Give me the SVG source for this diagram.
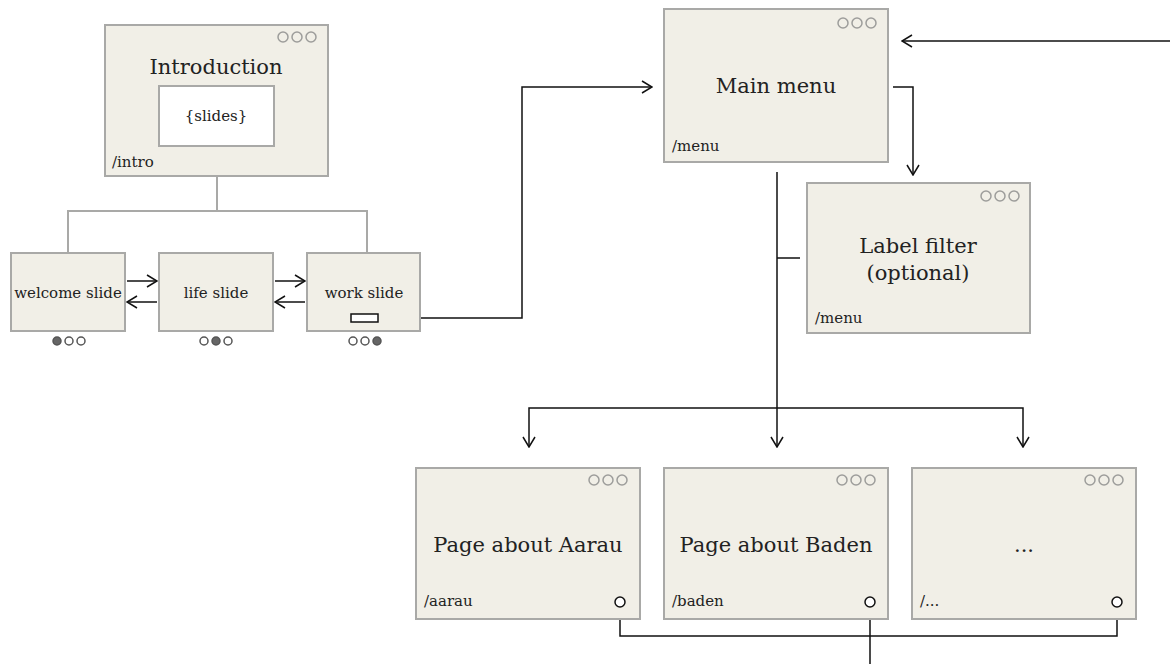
<svg xmlns="http://www.w3.org/2000/svg" width="1170" height="664" viewBox="0 0 1170 664">
<defs>
<style>
.box{fill:#f1efe7;stroke:#a9a9a7;stroke-width:2}
.inner{fill:#ffffff;stroke:#a9a9a7;stroke-width:2}
.dot{fill:none;stroke:#9d9d9b;stroke-width:1.5}
.sdot{fill:#ffffff;stroke:#555;stroke-width:1.5}
.sdotf{fill:#666;stroke:#555;stroke-width:1.5}
.title{font-family:"DejaVu Serif","Liberation Serif",serif;font-size:21px;fill:#222;text-anchor:middle}
.lbl{font-family:"DejaVu Serif","Liberation Serif",serif;font-size:15px;fill:#222}
.lblc{font-family:"DejaVu Serif","Liberation Serif",serif;font-size:15px;fill:#222;text-anchor:middle}
.tree{fill:none;stroke:#a9a9a7;stroke-width:2}
.con{fill:none;stroke:#111;stroke-width:1.5}
.arr{fill:none;stroke:#111;stroke-width:1.5;marker-end:url(#ah)}
.port{fill:#fff;stroke:#111;stroke-width:1.5}
</style>
<marker id="ah" viewBox="0 0 12 14" refX="11" refY="7" markerWidth="12" markerHeight="14" markerUnits="userSpaceOnUse" orient="auto">
<path d="M1,1 L11,7 L1,13" fill="none" stroke="#111" stroke-width="1.5"/>
</marker>
</defs>

<g id="connectors">
<path class="tree" d="M217,133 V211 M68,253 V211 H367 V253"/>
<path class="arr" d="M127,281 H157"/>
<path class="arr" d="M157,302 H127"/>
<path class="arr" d="M275,281 H305"/>
<path class="arr" d="M305,302 H275"/>
<path class="arr" d="M378,318 H522 V87 H652"/>
<path class="arr" d="M1170,41 H902"/>
<path class="arr" d="M893,87 H913 V175"/>
<path class="con" d="M777,172 V408 M777,258 H800"/>
<path class="arr" d="M777,408 V447"/>
<path class="arr" d="M777,408 H529 V447"/>
<path class="arr" d="M777,408 H1023 V447"/>
<path class="con" d="M620,607 V636 H1117 V607 M870,607 V664"/>
</g>

<g id="intro">
<rect class="box" x="105" y="25" width="223" height="151"/>
<circle class="dot" cx="283" cy="37" r="5"/><circle class="dot" cx="297" cy="37" r="5"/><circle class="dot" cx="311" cy="37" r="5"/>
<text class="title" x="216" y="74">Introduction</text>
<rect class="inner" x="159" y="86" width="115" height="60"/>
<text class="lblc" x="216" y="121">{slides}</text>
<text class="lbl" x="112" y="167">/intro</text>
</g>

<g id="welcome">
<rect class="box" x="11" y="253" width="114" height="78"/>
<text class="lblc" x="68" y="298">welcome slide</text>
<circle class="sdotf" cx="57" cy="341" r="4"/><circle class="sdot" cx="69" cy="341" r="4"/><circle class="sdot" cx="81" cy="341" r="4"/>
</g>
<g id="life">
<rect class="box" x="159" y="253" width="114" height="78"/>
<text class="lblc" x="216" y="298">life slide</text>
<circle class="sdot" cx="204" cy="341" r="4"/><circle class="sdotf" cx="216" cy="341" r="4"/><circle class="sdot" cx="228" cy="341" r="4"/>
</g>
<g id="work">
<rect class="box" x="307" y="253" width="113" height="78"/>
<text class="lblc" x="364" y="298">work slide</text>
<rect x="351" y="314" width="27" height="8" fill="#fff" stroke="#111" stroke-width="1.5"/>
<circle class="sdot" cx="353" cy="341" r="4"/><circle class="sdot" cx="365" cy="341" r="4"/><circle class="sdotf" cx="377" cy="341" r="4"/>
</g>

<g id="mainmenu">
<rect class="box" x="664" y="9" width="224" height="153"/>
<circle class="dot" cx="843" cy="23" r="5"/><circle class="dot" cx="857" cy="23" r="5"/><circle class="dot" cx="871" cy="23" r="5"/>
<text class="title" x="776" y="93">Main menu</text>
<text class="lbl" x="672" y="151">/menu</text>
</g>

<g id="labelfilter">
<rect class="box" x="807" y="183" width="223" height="150"/>
<circle class="dot" cx="986" cy="196" r="5"/><circle class="dot" cx="1000" cy="196" r="5"/><circle class="dot" cx="1014" cy="196" r="5"/>
<text class="title" x="918" y="253">Label filter</text>
<text class="title" x="918" y="280">(optional)</text>
<text class="lbl" x="815" y="323">/menu</text>
</g>

<g id="aarau">
<rect class="box" x="416" y="468" width="224" height="151"/>
<circle class="dot" cx="594" cy="480" r="5"/><circle class="dot" cx="608" cy="480" r="5"/><circle class="dot" cx="622" cy="480" r="5"/>
<text class="title" x="528" y="552">Page about Aarau</text>
<text class="lbl" x="424" y="606">/aarau</text>
<circle class="port" cx="620" cy="602" r="5"/>
</g>

<g id="baden">
<rect class="box" x="664" y="468" width="224" height="151"/>
<circle class="dot" cx="842" cy="480" r="5"/><circle class="dot" cx="856" cy="480" r="5"/><circle class="dot" cx="870" cy="480" r="5"/>
<text class="title" x="776" y="552">Page about Baden</text>
<text class="lbl" x="672" y="606">/baden</text>
<circle class="port" cx="870" cy="602" r="5"/>
</g>

<g id="more">
<rect class="box" x="912" y="468" width="224" height="151"/>
<circle class="dot" cx="1090" cy="480" r="5"/><circle class="dot" cx="1104" cy="480" r="5"/><circle class="dot" cx="1118" cy="480" r="5"/>
<text class="title" x="1024" y="552">...</text>
<text class="lbl" x="920" y="606">/...</text>
<circle class="port" cx="1117" cy="602" r="5"/>
</g>
</svg>
